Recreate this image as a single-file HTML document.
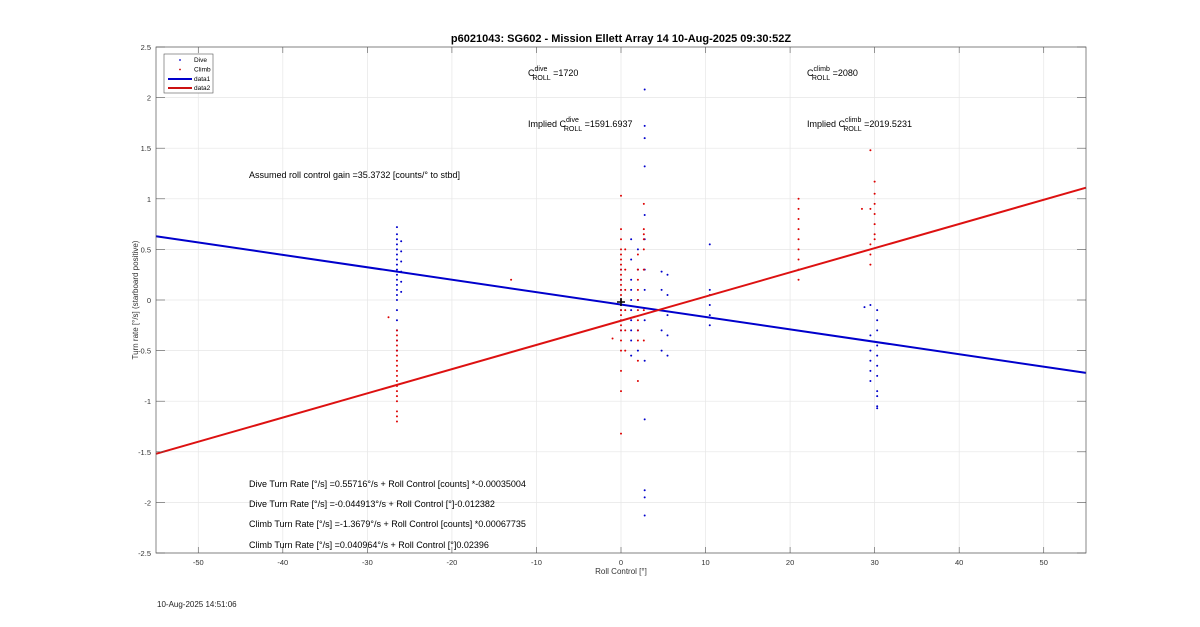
<!DOCTYPE html>
<html><head><meta charset="utf-8"><style>
body{margin:0;background:#fff;font-family:"Liberation Sans",Arial,sans-serif}
svg text{font-family:"Liberation Sans",Arial,sans-serif}
</style></head><body>
<svg id="c" width="1200" height="622" viewBox="0 0 1200 622">
<rect x="0" y="0" width="1200" height="622" fill="#fff"/>
<g id="grid"></g>
<g id="marks"></g>
<g id="axes"></g>
<text x="621" y="42" text-anchor="middle" font-size="11" font-weight="bold">p6021043: SG602 - Mission Ellett Array 14 10-Aug-2025 09:30:52Z</text>
<text x="621" y="574" text-anchor="middle" font-size="8" fill="#333">Roll Control [°]</text>
<text transform="translate(138,300) rotate(-90)" text-anchor="middle" font-size="8" fill="#333">Turn rate [°/s] (starboard positive)</text>
<g font-size="9">
<text x="528" y="76">C<tspan font-size="7" dy="-5">dive</tspan><tspan font-size="7" dx="-15" dy="9">ROLL</tspan><tspan dy="-4"> =1720</tspan></text>
<text x="807" y="76">C<tspan font-size="7" dy="-5">climb</tspan><tspan font-size="7" dx="-18" dy="9">ROLL</tspan><tspan dy="-4"> =2080</tspan></text>
<text x="528" y="127">Implied C<tspan font-size="7" dy="-5">dive</tspan><tspan font-size="7" dx="-15" dy="9">ROLL</tspan><tspan dy="-4"> =1591.6937</tspan></text>
<text x="807" y="127">Implied C<tspan font-size="7" dy="-5">climb</tspan><tspan font-size="7" dx="-18" dy="9">ROLL</tspan><tspan dy="-4"> =2019.5231</tspan></text>
<text x="249" y="178">Assumed roll control gain =35.3732 [counts/° to stbd]</text>
<text x="249" y="487">Dive Turn Rate [°/s] =0.55716°/s + Roll Control [counts] *-0.00035004</text>
<text x="249" y="507">Dive Turn Rate [°/s] =-0.044913°/s + Roll Control [°]-0.012382</text>
<text x="249" y="527">Climb Turn Rate [°/s] =-1.3679°/s + Roll Control [counts] *0.00067735</text>
<text x="249" y="548">Climb Turn Rate [°/s] =0.040964°/s + Roll Control [°]0.02396</text>
</g>
<g>
<rect x="164" y="54" width="49" height="39" fill="#fff" stroke="#555" stroke-width="0.6"/>
<circle cx="180" cy="60" r="0.9" fill="#0000cc"/><text x="194" y="62" font-size="6.5">Dive</text>
<circle cx="180" cy="69.5" r="0.9" fill="#cc0000"/><text x="194" y="71.5" font-size="6.5">Climb</text>
<line x1="168" y1="79" x2="192" y2="79" stroke="#0000cc" stroke-width="2"/><text x="194" y="81" font-size="6.5">data1</text>
<line x1="168" y1="88" x2="192" y2="88" stroke="#cc1111" stroke-width="2"/><text x="194" y="90" font-size="6.5">data2</text>
</g>
<text x="157" y="607" font-size="8" fill="#222">10-Aug-2025 14:51:06</text>
</svg>
<script>
const xTicks=[-50,-40,-30,-20,-10,0,10,20,30,40,50];
const yTicks=[-2.5,-2,-1.5,-1,-0.5,0,0.5,1,1.5,2,2.5];
const diveX=[-26.5,-26.5,-26.5,-26.5,-26.5,-26.5,-26.5,-26.5,-26.5,-26.5,-26.5,-26.5,-26.5,-26.5,-26.5,-26.5,-26.5,-26.5,-26.5,-26.5,-26,-26,-26,-26,-26,-26,
0,0,0,0,0,0,0,0,1.2,1.2,1.2,1.2,1.2,1.2,1.2,1.2,1.2,1.2,
2.8,2.8,2.8,2.8,2.8,2.8,2.8,2.8,2.8,2.8,2.8,2.8,2.8,2.8,2,2,2,2,2,
4.8,4.8,4.8,4.8,4.8,5.5,5.5,5.5,5.5,5.5,10.5,10.5,10.5,10.5,10.5,10.5,
29.5,29.5,29.5,29.5,29.5,29.5,30.3,30.3,30.3,30.3,30.3,30.3,30.3,30.3,30.3,30.3,30.3,28.8];
const diveY=[0.72,0.6,0.55,0.5,0.45,0.4,0.35,0.3,0.25,0.2,0.15,0.1,0.05,0.0,-0.1,-0.2,-0.3,-0.4,-0.5,0.65,0.58,0.48,0.38,0.28,0.18,0.08,
0.3,0.2,0.1,0.0,-0.05,-0.1,-0.2,-0.3,0.6,0.4,0.2,0.1,0,-0.1,-0.2,-0.3,-0.4,-0.55,
2.08,1.72,1.6,1.32,0.84,0.6,0.3,0.1,-0.2,-0.6,-1.18,-1.88,-1.95,-2.13,0.5,0.3,0,-0.3,-0.5,
0.28,0.1,-0.1,-0.3,-0.5,0.25,0.05,-0.15,-0.35,-0.55,0.55,0.1,0.05,-0.05,-0.15,-0.25,
-0.05,-0.35,-0.5,-0.6,-0.7,-0.8,-0.1,-0.2,-0.3,-0.45,-0.55,-0.65,-0.75,-0.9,-0.95,-1.05,-1.07,-0.07];
const climbX=[-26.5,-26.5,-26.5,-26.5,-26.5,-26.5,-26.5,-26.5,-26.5,-26.5,-26.5,-26.5,-26.5,-26.5,-26.5,-26.5,-26.5,-26.5,-27.5,-13,
0,0,0,0,0,0,0,0,0,0,0,0,0,0,0,0,0,0,0,0,0,0,0,0,0,-1,
0.5,0.5,0.5,0.5,0.5,0.5,2,2,2,2,2,2,2,2,2,2,2,2.7,2.7,2.7,2.7,2.7,2.7,2.7,2.7,
21,21,21,21,21,21,21,21,21,29.5,29.5,29.5,29.5,29.5,30,30,30,30,30,30,30,28.5];
const climbY=[-0.35,-0.4,-0.45,-0.5,-0.55,-0.6,-0.65,-0.7,-0.75,-0.8,-0.85,-0.9,-0.95,-1.0,-1.1,-1.15,-1.2,-0.3,-0.17,0.2,
1.03,0.7,0.6,0.5,0.45,0.4,0.35,0.3,0.25,0.2,0.15,0.1,0.05,0,-0.05,-0.1,-0.15,-0.2,-0.25,-0.3,-0.4,-0.5,-0.7,-0.9,-1.32,-0.38,
0.5,0.3,0.1,-0.1,-0.3,-0.5,0.45,0.3,0.2,0.1,0,-0.1,-0.2,-0.3,-0.4,-0.6,-0.8,0.95,0.7,0.6,0.65,0.5,0.3,-0.1,-0.4,
1.0,0.9,0.8,0.7,0.6,0.5,0.4,0.3,0.2,0.9,0.55,0.45,0.35,1.48,1.17,1.05,0.95,0.85,0.75,0.65,0.6,0.9];
const fitX=[-55,55];
const diveFit=[0.63,-0.72];
const climbFit=[-1.52,1.11];
const X0=156,X1=1086,Y0=553,Y1=47,xmin=-55,xmax=55,ymin=-2.5,ymax=2.5;
const sx=v=>X0+(v-xmin)/(xmax-xmin)*(X1-X0);
const sy=v=>Y0-(v-ymin)/(ymax-ymin)*(Y0-Y1);
const NS="http://www.w3.org/2000/svg";
function mk(t,a,p){const e=document.createElementNS(NS,t);for(const k in a)e.setAttribute(k,a[k]);p.appendChild(e);return e;}
const grid=document.getElementById('grid'),axes=document.getElementById('axes'),marks=document.getElementById('marks');
xTicks.forEach(t=>{const x=sx(t);
const g=mk('line',{x1:x,x2:x,y1:Y1,y2:Y0,stroke:'#e6e6e6','stroke-width':0.7},grid);


mk('line',{x1:x,x2:x,y1:Y0,y2:Y0-6,stroke:'#555','stroke-width':0.6},axes);
mk('line',{x1:x,x2:x,y1:Y1,y2:Y1+6,stroke:'#555','stroke-width':0.6},axes);
const l=mk('text',{x:x,y:Y0+12,'text-anchor':'middle','font-size':7.5,fill:'#333'},axes);l.textContent=t;

});
yTicks.forEach(t=>{const y=sy(t);
const g=mk('line',{x1:X0,x2:X1,y1:y,y2:y,stroke:'#e6e6e6','stroke-width':0.7},grid);


mk('line',{x1:X0,x2:X0+9,y1:y,y2:y,stroke:'#555','stroke-width':0.6},axes);
mk('line',{x1:X1,x2:X1-9,y1:y,y2:y,stroke:'#555','stroke-width':0.6},axes);
const l=mk('text',{x:X0-5,y:y+3,'text-anchor':'end','font-size':7.5,fill:'#333'},axes);l.textContent=t;

});
const box=mk('rect',{x:X0,y:Y1,width:X1-X0,height:Y0-Y1,fill:'none',stroke:'#555','stroke-width':0.7},axes);


diveX.forEach((v,i)=>{const c=mk('circle',{cx:sx(v),cy:sy(diveY[i]),r:1,fill:'#0000cc'},marks);

});
climbX.forEach((v,i)=>{const c=mk('circle',{cx:sx(v),cy:sy(climbY[i]),r:1,fill:'#dd0000'},marks);

});
const l1=mk('line',{x1:sx(fitX[0]),y1:sy(diveFit[0]),x2:sx(fitX[1]),y2:sy(diveFit[1]),stroke:'#0000cc','stroke-width':2},marks);


const l2=mk('line',{x1:sx(fitX[0]),y1:sy(climbFit[0]),x2:sx(fitX[1]),y2:sy(climbFit[1]),stroke:'#dd1111','stroke-width':2},marks);


const px=sx(0),py=sy(-0.02);
const cr=mk('path',{d:`M${px-4},${py}H${px+4}M${px},${py-4}V${py+4}`,stroke:'#000','stroke-width':1.5},marks);


</script>
</body></html>
